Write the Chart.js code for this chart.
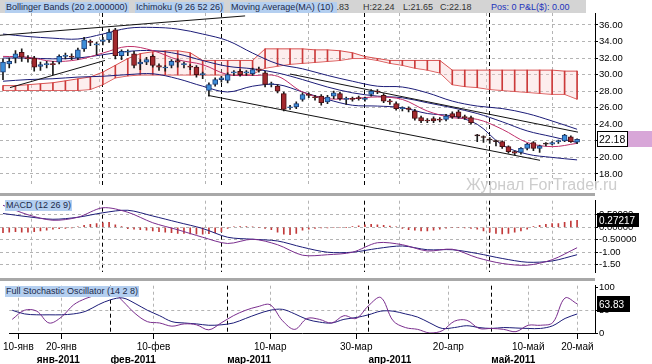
<!DOCTYPE html>
<html>
<head>
<meta charset="utf-8">
<script src="https://cdn.jsdelivr.net/npm/chart.js@4.4.1/dist/chart.umd.min.js"></script>
<style>
  body { margin:0; width:652px; height:364px; overflow:hidden; background:#fff; position:relative;
         font-family: Arial, "Liberation Sans", sans-serif; }
  canvas { position:absolute; left:0; }
  .hdr { position:absolute; left:0; top:0; width:586px; height:13px; background:#d4d4d4; }
  .tag { position:absolute; height:11px; line-height:11px; font-size:9px; background:#b4cff0; color:#1c2a4a; padding:0 1px; white-space:nowrap; }
  .txt { position:absolute; top:2px; line-height:11px; font-size:9px; color:#333; white-space:nowrap; }
  .sep { position:absolute; left:0; width:595px; height:3px; background:#a8a8a8; }
  .wm { position:absolute; left:466px; top:176px; line-height:18px; font-size:16px; color:#cdcdcd; white-space:nowrap; }
</style>
</head>
<body>
<canvas id="priceChart" width="652" height="194" style="top:0;width:652px;height:194px"></canvas>
<canvas id="macdChart" width="652" height="85" style="top:194px;width:652px;height:85px"></canvas>
<canvas id="stochChart" width="652" height="86" style="top:279px;width:652px;height:86px"></canvas>

<div class="sep" style="top:193px"></div>
<div class="sep" style="top:278px"></div>

<div class="hdr"></div>
<span class="txt" style="right:303px">O:21.83</span>
<span class="tag" style="left:5px;top:2px">Bollinger Bands (20 2.000000)</span>
<span class="tag" style="left:135px;top:2px">Ichimoku (9 26 52 26)</span>
<span class="tag" style="left:230px;top:2px;width:105px">Moving Average(MA) (10)</span>
<span class="txt" style="left:363px">H:22.24</span>
<span class="txt" style="left:403px">L:21.65</span>
<span class="txt" style="left:440px">C:22.18</span>
<span class="txt" style="left:491px;color:#2233bb">Pos: 0 P&amp;L($): 0.00</span>

<span class="tag" style="left:5px;top:200px">MACD (12 26 9)</span>
<span class="tag" style="left:5px;top:286px">Full Stochastic Oscillator (14 2 8)</span>
<div class="wm">Журнал ForTrader.ru</div>

<script>
// свечи: индекс = торговый день (0 = 7 янв 2011, 92 = 20 мая 2011)
const opens  = [30.3,31.3,32.0,32.7,32.0,32.0,31.0,31.2,31.3,31.5,32.2,32.2,32.0,33.1,34.0,33.6,34.0,34.2,35.4,32.3,
                32.7,32.5,31.3,31.5,32.2,31.1,30.8,31.1,31.7,31.2,31.0,30.9,30.0,28.1,28.8,29.4,29.3,30.2,30.4,30.2,
                30.1,30.7,30.2,28.8,28.6,27.7,26.0,26.1,27.0,27.6,27.3,27.4,26.7,27.4,27.7,27.0,27.1,27.2,27.0,27.6,
                28.0,27.5,26.8,26.5,25.9,25.9,25.6,24.8,24.5,24.7,24.6,24.6,25.3,25.5,24.9,24.8,22.6,22.4,22.1,21.9,
                21.9,21.3,20.7,20.6,21.1,21.8,21.1,21.6,21.6,21.9,22.0,22.5,21.83];
const highs  = [31.9,32.0,32.9,33.1,32.3,32.2,31.5,31.6,31.6,32.4,32.6,32.5,33.2,34.5,34.2,33.9,34.5,35.5,35.6,33.0,
                33.0,32.8,31.8,32.1,32.4,31.3,31.1,31.8,31.9,31.5,31.2,31.1,30.3,29.0,29.6,29.8,30.2,30.5,30.6,30.5,
                30.8,30.9,30.4,29.1,28.8,27.9,26.3,26.7,27.8,27.8,27.5,27.6,27.5,28.0,27.9,27.3,27.3,27.4,27.3,28.2,
                28.2,27.7,27.0,26.7,26.1,26.1,25.8,25.0,24.7,24.9,24.8,25.2,25.5,25.7,25.1,25.0,22.8,22.6,22.4,22.1,
                22.0,21.4,20.8,21.2,21.7,21.9,21.5,21.8,21.9,22.1,22.8,22.6,22.24];
const lows   = [29.4,30.8,31.4,31.6,31.5,30.4,30.5,30.8,30.0,31.3,31.9,31.8,31.8,32.8,33.5,32.4,33.6,33.9,31.9,31.8,
                32.3,30.8,30.6,31.2,30.9,30.5,30.4,30.8,30.9,30.8,30.6,29.7,29.5,27.4,28.6,29.1,29.0,29.9,29.8,29.9,
                29.9,30.3,28.5,28.5,27.8,25.6,25.8,25.9,26.8,27.2,26.9,26.3,26.5,27.1,26.9,26.4,26.8,26.9,26.8,27.4,
                27.7,26.6,26.4,25.7,25.6,25.5,24.5,24.2,24.2,24.2,24.3,24.4,24.7,24.7,24.6,24.0,21.9,21.8,21.7,21.4,
                21.1,20.5,20.3,20.4,20.9,20.8,20.6,21.4,21.5,21.7,21.9,21.8,21.65];
const closes = [31.5,31.6,32.5,32.1,31.9,30.9,31.2,31.3,31.2,32.2,32.3,32.1,33.0,34.2,33.9,33.7,34.2,35.1,32.3,32.8,
                32.8,31.1,31.5,31.8,31.1,30.9,30.9,31.6,31.5,31.3,30.9,30.0,30.1,28.8,29.4,29.6,30.0,30.3,30.0,30.3,
                30.6,30.5,28.8,28.9,28.0,25.8,26.1,26.5,27.6,27.5,27.2,26.6,27.3,27.8,27.1,27.1,27.0,27.1,27.1,28.0,
                27.9,26.8,26.7,25.9,26.0,25.8,24.7,24.4,24.4,24.4,24.5,25.0,24.9,24.9,24.8,24.2,22.6,22.4,22.1,21.9,
                21.3,20.7,20.5,21.1,21.6,21.1,21.4,21.6,21.8,22.0,22.7,21.9,22.18];

const lineIdx  = [0,4,8,12,16,20,24,28,32,36,40,44,48,52,56,60,64,68,72,76,80,84,88,92];
const bbUpper  = [34.9,34.6,34.4,34.3,34.9,35.6,35.7,35.5,34.9,34.1,32.6,31.3,30.7,29.9,29.2,28.6,28.5,27.8,26.8,26.2,25.9,25.3,24.4,23.4];
const bbMiddle = [32.0,32.0,31.9,32.0,32.4,32.8,32.9,32.5,31.7,31.0,30.7,30.2,29.4,28.5,27.8,27.4,27.2,26.6,26.0,25.3,24.3,23.2,22.5,21.8];
const bbLower  = [29.2,29.4,29.5,29.7,29.8,30.0,30.1,29.5,28.6,27.9,28.6,28.8,27.9,27.0,26.3,26.2,26.0,25.3,25.0,24.0,21.5,20.4,20.0,19.7];
const maLine   = [32.2,32.1,31.6,31.8,32.6,33.4,32.9,31.8,31.2,30.0,29.9,29.8,27.9,27.1,27.1,27.3,27.0,25.6,24.8,24.6,23.4,21.8,21.3,21.7];

// облако Ишимоку, каждые 2 бара
const cloudIdx = [0,2,4,6,8,10,12,14,16,18,20,22,24,26,28,30,32,34,36,38,40,42,44,46,48,50,52,54,56,58,60,62,64,66,68,70,72,74,76,78,80,82,84,86,88,90,92];
const spanA = [28.67,28.67,28.78,28.90,29.02,29.25,29.49,29.72,30.30,31.12,31.94,32.53,32.76,32.88,32.88,32.64,31.71,31.71,31.71,31.71,
               31.71,33.11,33.11,33.11,33.11,32.99,32.99,32.88,32.64,32.18,31.94,31.71,31.71,31.71,31.71,31.71,30.54,30.54,30.54,30.54,
               30.54,30.54,30.54,30.54,30.54,30.42,30.42];
const spanB = [28.08,28.08,28.08,28.08,28.08,28.08,28.08,28.20,28.78,29.60,29.84,29.95,29.95,29.95,29.95,29.95,29.95,29.95,29.95,29.95,
               30.07,30.77,31.01,31.24,31.36,31.47,31.59,31.71,31.94,31.94,31.71,31.36,31.12,30.77,30.54,30.19,28.78,28.55,28.43,28.20,
               28.08,27.96,27.85,27.73,27.61,27.61,27.03];

// трендовые линии: [бар1, цена1, бар2, цена2]
const trendLines = [
  [-0.48, 34.75, 38.8, 37.09],
  [1.12, 28.43, 16.35, 31.71],
  [32.85, 27.49, 86.06, 19.65],
  [46.0, 30.07, 92.15, 23.05]
];

// MACD
const macdHist = [-0.22,-0.2,-0.18,-0.2,-0.2,-0.18,-0.15,-0.12,
                  -0.08,-0.06,-0.05,-0.03,0.02,
                  0.08,0.12,0.15,0.18,0.2,
                  0.1,0.03,
                  -0.06,-0.08,-0.1,-0.12,
                  -0.15,-0.18,-0.2,-0.22,-0.25,-0.25,-0.27,-0.28,-0.28,-0.26,-0.22,-0.18,
                  -0.05,0.02,0.03,0.03,0.02,-0.02,-0.05,-0.1,
                  -0.2,-0.28,-0.3,-0.25,
                  -0.12,-0.08,-0.05,-0.03,-0.03,-0.02,-0.02,-0.01,
                  0.03,0.06,0.1,0.12,0.1,0.08,0.05,0.02,
                  -0.05,-0.1,-0.12,-0.15,-0.15,-0.12,-0.08,
                  -0.04,-0.02,-0.02,-0.03,-0.05,-0.08,
                  -0.15,-0.2,-0.25,-0.27,-0.25,-0.2,-0.15,-0.08,
                  0.03,0.08,0.12,0.15,0.15,
                  0.2,0.25,0.27217];
const macdLine   = [0.88,0.50,0.28,0.40,0.78,0.60,0.18,-0.10,-0.40,-0.65,-0.48,-0.70,-1.12,-1.10,-1.00,-0.62,-0.70,-0.95,-0.88,-1.22,-1.45,-1.52,-1.30,-0.82];
const macdSignal = [0.55,0.42,0.32,0.40,0.58,0.68,0.45,0.20,-0.05,-0.40,-0.48,-0.55,-0.80,-1.00,-1.00,-0.85,-0.75,-0.90,-0.90,-1.05,-1.25,-1.40,-1.35,-1.10];

// стохастик, каждые 2 бара
const stochK = [30,50,48,22,35,62,76,85,95,70,43,25,22,15,20,18,7,22,38,50,58,62,27,8,32,30,22,38,32,60,78,27,12,8,0,5,26,28,10,10,8,3,17,17,23,77,63.83];
const stochD = [50,42,40,40,40,42,48,62,73,77,65,50,38,25,22,20,17,18,22,32,42,50,52,42,30,24,22,30,34,40,48,48,42,35,22,10,12,16,12,10,12,11,10,10,16,32,42];

// оси
const dayTickIdx = [1, 8, 23, 42, 56, 71, 84, 92];
const dayTickLabels = ['10-янв','20-янв','10-фев','10-мар','30-мар','20-апр','10-май','20-май'];
const monthTickIdx = [4, 16, 35, 58, 78];
const monthTickLabels = ['янв-2011','фев-2011','мар-2011','апр-2011','май-2011'];
const priceTicks = [18,20,22,24,26,28,30,32,34,36];
const macdTicks = [-1.5,-1,-0.5,0,0.5];
const macdTickLabels = ['-1.50','-1.00','-0.50000','0.00000','0.50000'];
const stochTicks = [0,20,50,80,100];

const X_MIN = -0.48, X_MAX = 94.87;
const pts = (xs, ys) => xs.map((x, i) => ({x: x, y: ys[i]}));

// плашка с последним значением на правой оси
const lastValueBox = {
  id: 'lastValueBox',
  afterDraw(chart, args, o) {
    if (!o || o.text == null) return;
    const ctx = chart.ctx, ys = chart.scales.y;
    const yc = Math.round(ys.getPixelForValue(o.value));
    const x0 = ys.left + 2, h = o.height, top = yc - h / 2;
    ctx.save();
    ctx.fillStyle = o.bg;
    ctx.fillRect(x0, top, o.width, h);
    if (o.border) { ctx.strokeStyle = o.border; ctx.lineWidth = 1; ctx.strokeRect(x0 + 0.5, top + 0.5, o.width - 1, h - 1); }
    if (o.tail) { ctx.fillStyle = o.tail; ctx.fillRect(x0 + o.width, top, chart.width - x0 - o.width, h); }
    ctx.fillStyle = o.color;
    ctx.font = o.font;
    ctx.textBaseline = 'middle';
    ctx.fillText(o.text, x0 + 2, yc + 1);
    ctx.restore();
  }
};

function xScales(bottom) {
  return {
    x: {
      type: 'linear', min: X_MIN, max: X_MAX, offset: false, position: 'bottom', weight: 0,
      afterBuildTicks: s => { s.ticks = dayTickIdx.map(v => ({value: v})); },
      ticks: { display: bottom, autoSkip: false, maxRotation: 0, padding: 3, color: '#000',
               font: {size: 10, lineHeight: 1}, callback: v => dayTickLabels[dayTickIdx.indexOf(v)] },
      grid: { color: '#b4b4b4', drawTicks: bottom, tickLength: 6, tickColor: '#000' },
      border: { display: bottom, color: '#000', dash: [3, 3] }
    },
    x2: {
      type: 'linear', min: X_MIN, max: X_MAX, offset: false, position: 'bottom', weight: 1,
      afterBuildTicks: s => { s.ticks = monthTickIdx.map(v => ({value: v})); },
      ticks: { display: bottom, autoSkip: false, maxRotation: 0, padding: 0, align: 'start', color: '#000',
               font: {size: 10, weight: 'bold', lineHeight: 1}, callback: v => monthTickLabels[monthTickIdx.indexOf(v)] },
      grid: { color: c => (c.index === 0 ? 'rgba(0,0,0,0)' : '#000'), drawTicks: false },
      border: { display: false, dash: [4, 3] }
    }
  };
}

function yScale(min, max, ticks, labelFn, dashFn, colorFn) {
  return {
    type: 'linear', position: 'right', min: min, max: max,
    afterBuildTicks: s => { s.ticks = ticks.map(v => ({value: v})); },
    afterFit: s => { s.width = 57; },
    ticks: { padding: 1, color: '#000', font: {size: 9.5}, callback: labelFn },
    grid: { color: colorFn || '#b4b4b4', tickLength: 3, tickColor: '#000' },
    border: { display: true, color: '#000', dash: dashFn || [3, 3] }
  };
}

const baseOpts = {
  responsive: false, animation: false, devicePixelRatio: 1,
  plugins: { legend: {display: false}, tooltip: {enabled: false} }
};

// ---------- цена ----------
const upCol = '#3d8dd8', dnCol = '#a3292e';
const bodyCols = opens.map((o, i) => closes[i] > o ? upCol : (closes[i] < o ? dnCol : '#222'));
const bodyBorders = opens.map((o, i) => closes[i] > o ? '#1d3f7a' : '#4a1014');

const trendSets = trendLines.map(t => ({
  type: 'line', data: [{x: t[0], y: t[1]}, {x: t[2], y: t[3]}],
  borderColor: '#111', borderWidth: 1, pointRadius: 0, order: 3
}));

new Chart(document.getElementById('priceChart'), {
  type: 'line',
  data: {
    datasets: [
      { type: 'bar', data: opens.map((o, i) => ({x: i, y: [o, closes[i]]})), backgroundColor: bodyCols,
        borderColor: bodyBorders, borderWidth: 1, borderSkipped: false, barThickness: 5, minBarLength: 1,
        grouped: false, order: 1 },
      { type: 'bar', data: lows.map((l, i) => ({x: i, y: [l, highs[i]]})), backgroundColor: '#1a1a1a',
        barThickness: 1, grouped: false, order: 2 },
      { data: pts(lineIdx, maLine), borderColor: '#c0306a', borderWidth: 1, pointRadius: 0, tension: 0.35, order: 4 },
      { data: pts(lineIdx, bbUpper), borderColor: '#1c1c78', borderWidth: 1, pointRadius: 0, tension: 0.35, order: 5 },
      { data: pts(lineIdx, bbMiddle), borderColor: '#1c1c78', borderWidth: 1, pointRadius: 0, tension: 0.35, order: 5 },
      { data: pts(lineIdx, bbLower), borderColor: '#1c1c78', borderWidth: 1, pointRadius: 0, tension: 0.35, order: 5 },
      ...trendSets,
      { type: 'bar', data: spanA.map((a, k) => ({x: cloudIdx[k], y: [a, spanB[k]]})), backgroundColor: '#cc3a3a',
        barThickness: 1, grouped: false, order: 8 },
      { data: pts(cloudIdx, spanA), borderColor: '#d85050', borderWidth: 1, pointRadius: 0, fill: '+1',
        backgroundColor: 'rgba(250,205,205,0.35)', order: 9 },
      { data: pts(cloudIdx, spanB), borderColor: '#d85050', borderWidth: 1, pointRadius: 0, order: 9 }
    ]
  },
  options: {
    ...baseOpts,
    layout: { autoPadding: false, padding: {top: 13, bottom: 1, left: 0, right: 0} },
    plugins: { ...baseOpts.plugins,
      lastValueBox: { value: closes[92], text: closes[92].toFixed(2), width: 31, height: 16, bg: '#fff',
                      border: '#000', tail: '#d8a6d8', color: '#000', font: '10.5px Arial' } },
    scales: { ...xScales(false), y: yScale(16.39, 37.44, priceTicks, v => v.toFixed(2)) }
  },
  plugins: [lastValueBox]
});

// ---------- MACD ----------
new Chart(document.getElementById('macdChart'), {
  type: 'line',
  data: {
    datasets: [
      { type: 'bar', data: macdHist.map((v, i) => ({x: i, y: v})), backgroundColor: '#c23a3a',
        barThickness: 1, grouped: false, order: 3 },
      { data: pts(lineIdx, macdLine), borderColor: '#7a2e8e', borderWidth: 1, pointRadius: 0, tension: 0.3, order: 1 },
      { data: pts(lineIdx, macdSignal), borderColor: '#1c1c78', borderWidth: 1, pointRadius: 0, tension: 0.3, order: 2 }
    ]
  },
  options: {
    ...baseOpts,
    layout: { autoPadding: false, padding: {top: 2, bottom: 1, left: 0, right: 0} },
    plugins: { ...baseOpts.plugins,
      lastValueBox: { value: macdHist[92], text: macdHist[92].toFixed(5), width: 42, height: 14, bg: '#000',
                      color: '#fff', font: '10px Arial' } },
    scales: { ...xScales(false),
      y: yScale(-1.804, 1.063, macdTicks, v => macdTickLabels[macdTicks.indexOf(v)]) }
  },
  plugins: [lastValueBox]
});

// ---------- стохастик ----------
new Chart(document.getElementById('stochChart'), {
  type: 'line',
  data: {
    datasets: [
      { data: pts(cloudIdx, stochK), borderColor: '#7a2e8e', borderWidth: 1, pointRadius: 0, tension: 0.35 },
      { data: pts(cloudIdx, stochD), borderColor: '#1c1c78', borderWidth: 1, pointRadius: 0, tension: 0.35 }
    ]
  },
  options: {
    ...baseOpts,
    layout: { autoPadding: false, padding: {top: 2, bottom: 0, left: 0, right: 0} },
    plugins: { ...baseOpts.plugins,
      lastValueBox: { value: stochK[46], text: stochK[46].toFixed(2), width: 33, height: 16, bg: '#000',
                      color: '#fff', font: '10px Arial' } },
    scales: { ...xScales(true),
      y: yScale(0, 104, stochTicks,
        v => (v === 20 || v === 80 ? '' : String(v)),
        c => (c.tick && c.tick.value === 50 ? [3, 3] : []),
        c => (c.tick && (c.tick.value === 20 || c.tick.value === 80) ? '#a0a0a0' :
              (c.tick && c.tick.value === 50 ? '#b4b4b4' : 'rgba(0,0,0,0)'))) }
  },
  plugins: [lastValueBox]
});
</script>
</body>
</html>
